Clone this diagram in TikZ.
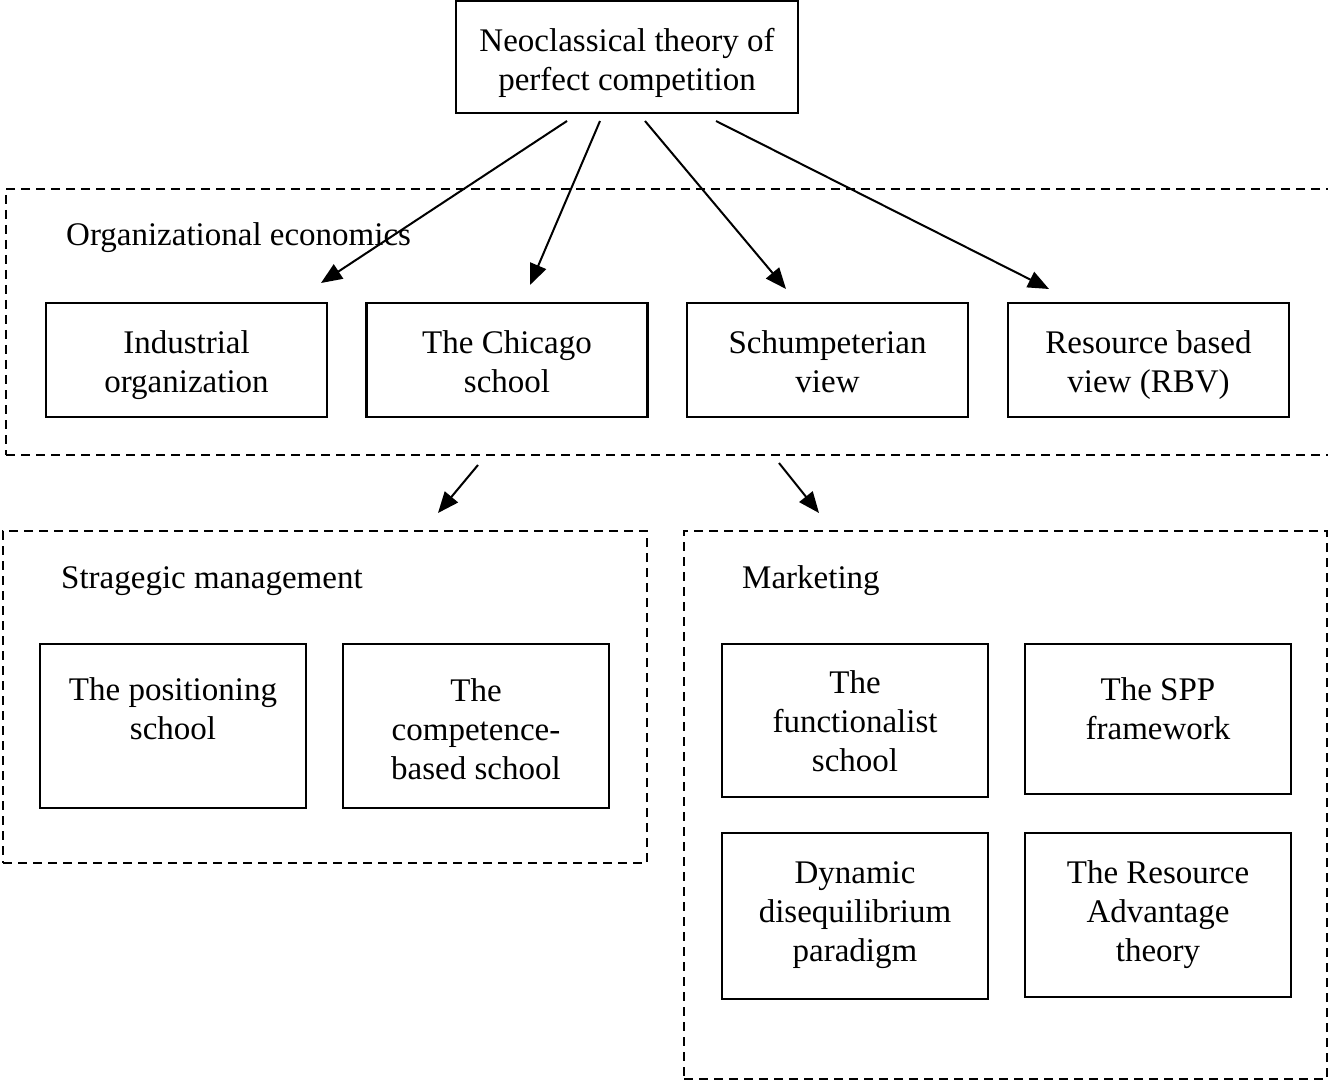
\documentclass[tikz,border=0pt]{standalone}
\usepackage{fontspec}
\setmainfont{Liberation Serif}
\usetikzlibrary{arrows.meta}
\begin{document}
\begin{tikzpicture}[x=1pt,y=-1pt,
  cell/.style={draw, line width=2.4pt, inner sep=0pt},
  group/.style={draw, dash pattern=on 9pt off 6pt, line width=2pt, inner sep=0pt},
  txt/.style={align=center, inner sep=0pt, text depth=7.2pt, font=\fontsize{33}{39}\selectfont},
  lbl/.style={anchor=base west, inner sep=0pt, font=\fontsize{33}{39}\selectfont},
  link/.style={line width=2pt, -{Triangle[length=21pt,width=17pt]}}]
\useasboundingbox (0,0) rectangle (1328,1083);
\clip (0,0) rectangle (1328,1083);

% root
\node[cell, minimum width=342pt, minimum height=112pt] (root) at (627,57) {};
\node[txt] (rootT) at (627,63) {Neoclassical theory of\\perfect competition};

% organizational economics group
\node[group, minimum width=1334pt, minimum height=266pt] (orgG) at (673,322) {};
\node[lbl] (orgL) at (66,246) {Organizational economics};
\node[cell, minimum width=281pt, minimum height=114pt] (io) at (186.5,360) {};
\node[txt] (ioT) at (186.5,365) {Industrial\\organization};
\node[cell, minimum width=281pt, minimum height=114pt] (chi) at (507,360) {};
\node[txt] (chiT) at (507,365) {The Chicago\\school};
\node[cell, minimum width=281pt, minimum height=114pt] (sch) at (827.5,360) {};
\node[txt] (schT) at (827.5,365) {Schumpeterian\\view};
\node[cell, minimum width=281pt, minimum height=114pt] (rbv) at (1148.5,360) {};
\node[txt] (rbvT) at (1148.5,365) {Resource based\\view (RBV)};

% strategic management group
\node[group, minimum width=644pt, minimum height=332pt] (smG) at (325,697) {};
\node[lbl] (smL) at (61,588) {Stragegic management};
\node[cell, minimum width=266pt, minimum height=164pt] (pos) at (173,726) {};
\node[txt] (posT) at (173,712.5) {The positioning\\school};
\node[cell, minimum width=266pt, minimum height=164pt] (comp) at (476,726) {};
\node[txt] (compT) at (476,732.5) {The\\competence-\\based school};

% marketing group
\node[group, minimum width=643pt, minimum height=548pt] (mkG) at (1005.5,805) {};
\node[lbl] (mkL) at (742,588) {Marketing};
\node[cell, minimum width=266pt, minimum height=153pt] (fun) at (855,720.5) {};
\node[txt] (funT) at (855,725) {The\\functionalist\\school};
\node[cell, minimum width=266pt, minimum height=150pt] (spp) at (1158,719) {};
\node[txt] (sppT) at (1158,712.5) {The SPP\\framework};
\node[cell, minimum width=266pt, minimum height=166pt] (dyn) at (855,916) {};
\node[txt] (dynT) at (855,915) {Dynamic\\disequilibrium\\paradigm};
\node[cell, minimum width=266pt, minimum height=164pt] (rat) at (1158,915) {};
\node[txt] (ratT) at (1158,915) {The Resource\\Advantage\\theory};

% connector ends
\coordinate (s1) at (567,121);
\coordinate (s2) at (600,121);
\coordinate (s3) at (645,121);
\coordinate (s4) at (716,121);
\coordinate (e1) at (321,283);
\coordinate (e2) at (530,285);
\coordinate (e3) at (786,289);
\coordinate (e4) at (1049,289);
\coordinate (s5) at (478,465);
\coordinate (e5) at (438,513);
\coordinate (s6) at (779,463);
\coordinate (e6) at (819,513);

\draw[link] (s1) -- (e1);
\draw[link] (s2) -- (e2);
\draw[link] (s3) -- (e3);
\draw[link] (s4) -- (e4);
\draw[link] (s5) -- (e5);
\draw[link] (s6) -- (e6);
\end{tikzpicture}
\end{document}
